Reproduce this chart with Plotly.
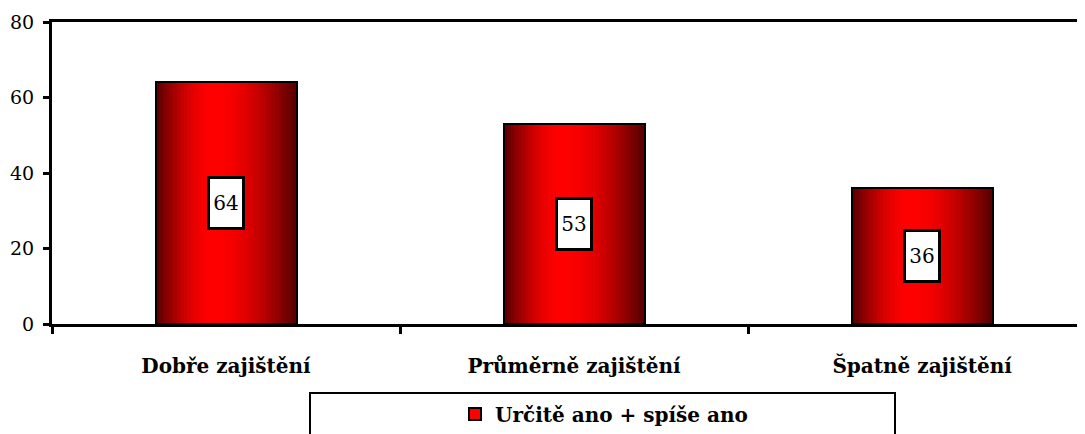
import plotly.graph_objects as go
import math

categories = ['Dobře zajištění', 'Průměrně zajištění', 'Špatně zajištění']
values = [64, 53, 36]
series_name = 'Určitě ano + spíše ano'

font_family = 'DejaVu Serif'
bar_w = 0.405
n_slices = 40


def shade(t):
    # dark red at both edges, bright red a bit left of centre
    peak = 0.42
    if t < peak:
        k = math.sin(math.pi / 2 * t / peak)
    else:
        k = math.cos(math.pi / 2 * (t - peak) / (1 - peak))
    r = int(85 + (255 - 85) * k)
    return 'rgb(%d,0,0)' % r


fig = go.Figure()

# base bar, also gives the legend symbol
fig.add_trace(go.Bar(x=categories, y=values, name=series_name, width=bar_w,
                     marker=dict(color='#ff0000', line=dict(color='black', width=2)),
                     showlegend=True, hoverinfo='skip'))

# gradient slices
sw = bar_w / n_slices
for i in range(n_slices):
    t = (i + 0.5) / n_slices
    fig.add_trace(go.Bar(x=categories, y=values, width=sw * 1.05,
                         offset=-bar_w / 2 + i * sw,
                         marker=dict(color=shade(t), line=dict(width=0)),
                         showlegend=False, hoverinfo='skip'))

# outline on top
fig.add_trace(go.Bar(x=categories, y=values, width=bar_w,
                     marker=dict(color='rgba(0,0,0,0)', line=dict(color='black', width=2)),
                     showlegend=False, hoverinfo='skip'))

for c, v in zip(categories, values):
    fig.add_annotation(x=c, y=v / 2, text=str(v), showarrow=False,
                       font=dict(family=font_family, size=20, color='black'),
                       bgcolor='white', bordercolor='black', borderwidth=3,
                       width=30, height=46)

# page has an 8px body margin, so the figure sits at (8, 8)
# legend frame
fig.add_shape(type='rect', xref='paper', yref='paper',
              x0=(310 - 52) / 1033, x1=(895 - 52) / 1033,
              y0=(324 - 393) / 302, y1=(324 - 445) / 302,
              line=dict(color='black', width=2), fillcolor='rgba(0,0,0,0)')

fig.update_layout(
    width=1077, height=426,
    margin=dict(l=44, r=0, t=14, b=110, autoexpand=False),
    paper_bgcolor='white', plot_bgcolor='white',
    barmode='overlay', bargap=0,
    font=dict(family=font_family, color='black'),
    showlegend=True,
    legend=dict(x=(455 - 52) / 1033, xanchor='left', y=(324 - 414) / 302, yanchor='middle',
                orientation='h', bgcolor='rgba(0,0,0,0)',
                font=dict(family=font_family, size=20, color='black', weight='bold')),
    xaxis=dict(range=[-0.5, 2.468], showline=True, linecolor='black', linewidth=3,
               mirror=True, ticks='outside', ticklen=7, tickwidth=3, tickcolor='black',
               tickson='boundaries', showgrid=False, ticklabelstandoff=22, automargin=False,
               tickfont=dict(family=font_family, size=20, color='black', weight='bold')),
    yaxis=dict(range=[0, 80], dtick=20, showline=True, linecolor='black', linewidth=3,
               ticks='outside', ticklen=6, tickwidth=3, tickcolor='black', showgrid=False,
               zeroline=False, ticklabelstandoff=5, automargin=False,
               tickfont=dict(family=font_family, size=19, color='black')),
)

fig.write_html('out.html')
